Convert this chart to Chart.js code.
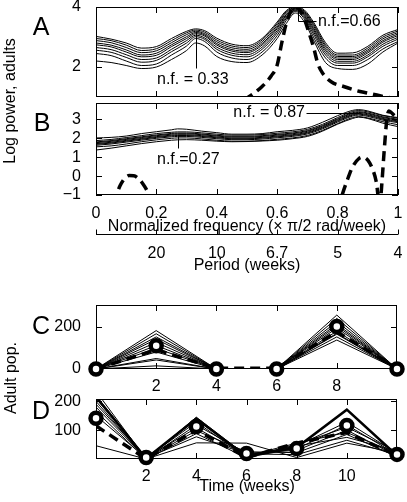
<!DOCTYPE html>
<html>
<head>
<meta charset="utf-8">
<script src="https://cdn.jsdelivr.net/npm/chart.js@4.4.0/dist/chart.umd.min.js"></script>
<style>
  html, body { margin: 0; padding: 0; background: #fff; }
  body { width: 407px; height: 502px; position: relative; overflow: hidden;
         font-family: 'Liberation Sans', Arial, sans-serif; color: #000; }
  canvas { position: absolute; left: 0; }
  .lbl { position: absolute; transform: translate(-50%, -50%); white-space: nowrap;
         font-size: 16px; line-height: 1; }
  .panel { font-size: 25px; }
  .rot { transform: translate(-50%, -50%) rotate(-90deg); }
</style>
</head>
<body>
<canvas id="chartA" width="407" height="100" style="top:0px"></canvas>
<canvas id="chartB" width="407" height="125" style="top:100px"></canvas>
<canvas id="chartP" width="407" height="45" style="top:214px"></canvas>
<canvas id="chartC" width="407" height="100" style="top:295px"></canvas>
<canvas id="chartD" width="407" height="113" style="top:389px"></canvas>

<div class="lbl panel" style="left:41px;top:26px">A</div>
<div class="lbl panel" style="left:42px;top:122px">B</div>
<div class="lbl panel" style="left:41px;top:325px">C</div>
<div class="lbl panel" style="left:41px;top:410px">D</div>
<div class="lbl rot" style="left:10px;top:101px">Log power, adults</div>
<div class="lbl rot" style="left:11px;top:378px">Adult pop.</div>
<div class="lbl" style="left:247px;top:226px">Normalized frequency (× π/2 rad/week)</div>
<div class="lbl" style="left:247px;top:265px">Period (weeks)</div>
<div class="lbl" style="left:247px;top:486px">Time (weeks)</div>

<script>
// ---- panel A: log power spectra (normalized frequency) ----
const nfA = [0, 0.05, 0.1, 0.15, 0.2, 0.25, 0.3, 0.33, 0.36, 0.4, 0.45, 0.5, 0.55, 0.6, 0.63, 0.66, 0.69, 0.72, 0.76, 0.8, 0.85, 0.9, 0.95, 1];
const runA1 = [3.02, 2.93, 2.80, 2.63, 2.68, 2.95, 3.19, 3.27, 3.21, 2.96, 2.76, 2.71, 2.95, 3.50, 3.88, 4.00, 3.90, 3.50, 2.81, 2.46, 2.47, 2.69, 3.06, 3.25];
const runA2 = [2.95, 2.88, 2.73, 2.55, 2.61, 2.88, 3.14, 3.23, 3.16, 2.90, 2.70, 2.65, 2.90, 3.45, 3.84, 3.98, 3.86, 3.44, 2.74, 2.40, 2.40, 2.63, 3.00, 3.20];
const runA3 = [2.88, 2.81, 2.65, 2.48, 2.54, 2.81, 3.08, 3.19, 3.11, 2.84, 2.64, 2.59, 2.84, 3.39, 3.80, 3.96, 3.83, 3.38, 2.68, 2.35, 2.35, 2.57, 2.94, 3.15];
const runA4 = [2.80, 2.73, 2.57, 2.40, 2.46, 2.74, 3.01, 3.15, 3.07, 2.78, 2.58, 2.53, 2.78, 3.33, 3.75, 3.94, 3.79, 3.31, 2.61, 2.30, 2.30, 2.52, 2.88, 3.10];
const runA5 = [2.74, 2.67, 2.50, 2.34, 2.39, 2.68, 2.95, 3.11, 3.03, 2.73, 2.53, 2.48, 2.73, 3.28, 3.72, 3.93, 3.75, 3.25, 2.55, 2.25, 2.25, 2.47, 2.83, 3.05];
const runA6 = [2.65, 2.58, 2.41, 2.25, 2.30, 2.59, 2.88, 3.06, 2.97, 2.66, 2.46, 2.41, 2.66, 3.21, 3.67, 3.90, 3.71, 3.18, 2.48, 2.19, 2.19, 2.40, 2.76, 2.99];
const runA7 = [2.56, 2.49, 2.32, 2.16, 2.22, 2.51, 2.80, 3.01, 2.92, 2.59, 2.39, 2.34, 2.59, 3.14, 3.62, 3.88, 3.66, 3.10, 2.40, 2.13, 2.13, 2.34, 2.69, 2.93];
const runA8 = [2.45, 2.38, 2.20, 2.05, 2.10, 2.40, 2.70, 2.95, 2.85, 2.50, 2.30, 2.25, 2.50, 3.05, 3.55, 3.85, 3.60, 3.00, 2.30, 2.05, 2.05, 2.25, 2.60, 2.85];
const runA9 = [2.20, 2.15, 2.05, 1.95, 2.00, 2.25, 2.55, 2.80, 2.70, 2.35, 2.18, 2.15, 2.40, 2.95, 3.45, 3.80, 3.50, 2.90, 2.15, 1.95, 1.92, 2.10, 2.50, 2.80];
const nfDashA = [0.49, 0.52, 0.55, 0.58, 0.6, 0.615, 0.63, 0.645, 0.66, 0.675, 0.69, 0.705, 0.72, 0.735, 0.75, 0.78, 0.82, 0.86, 0.9, 0.94, 0.98, 1];
const dashA = [0.9, 1.1, 1.35, 1.7, 2.07, 2.8, 3.45, 3.85, 4.0, 3.9, 3.6, 3.15, 2.67, 2.1, 1.8, 1.5, 1.35, 1.22, 1.13, 1.04, 0.96, 0.92];

// ---- panel B ----
const nfB = [0, 0.05, 0.1, 0.15, 0.2, 0.25, 0.27, 0.3, 0.35, 0.4, 0.45, 0.5, 0.55, 0.6, 0.65, 0.7, 0.75, 0.8, 0.85, 0.87, 0.9, 0.95, 1];
const runB1 = [2.02, 2.05, 2.12, 2.25, 2.35, 2.45, 2.50, 2.48, 2.38, 2.30, 2.22, 2.22, 2.25, 2.35, 2.42, 2.55, 2.85, 3.20, 3.48, 3.52, 3.45, 3.22, 3.10];
const runB2 = [1.88, 1.94, 2.04, 2.14, 2.25, 2.32, 2.34, 2.34, 2.29, 2.22, 2.17, 2.17, 2.20, 2.27, 2.34, 2.47, 2.74, 3.10, 3.42, 3.47, 3.40, 3.20, 3.07];
const runB3 = [1.81, 1.88, 1.98, 2.08, 2.18, 2.26, 2.28, 2.28, 2.23, 2.16, 2.11, 2.11, 2.14, 2.21, 2.28, 2.41, 2.68, 3.04, 3.36, 3.41, 3.34, 3.14, 3.01];
const runB4 = [1.77, 1.84, 1.94, 2.04, 2.14, 2.22, 2.24, 2.24, 2.19, 2.12, 2.07, 2.07, 2.10, 2.17, 2.24, 2.37, 2.64, 3.00, 3.32, 3.37, 3.30, 3.10, 2.97];
const runB5 = [1.72, 1.79, 1.89, 1.99, 2.09, 2.17, 2.19, 2.19, 2.14, 2.07, 2.02, 2.02, 2.05, 2.12, 2.19, 2.32, 2.59, 2.95, 3.27, 3.32, 3.25, 3.05, 2.92];
const runB6 = [1.68, 1.75, 1.85, 1.95, 2.05, 2.13, 2.15, 2.15, 2.10, 2.03, 1.98, 1.98, 2.01, 2.08, 2.15, 2.28, 2.55, 2.91, 3.23, 3.28, 3.21, 3.01, 2.88];
const runB7 = [1.63, 1.70, 1.80, 1.90, 2.00, 2.08, 2.10, 2.10, 2.05, 1.98, 1.93, 1.93, 1.96, 2.03, 2.10, 2.23, 2.50, 2.86, 3.18, 3.23, 3.16, 2.96, 2.83];
const runB8 = [1.55, 1.60, 1.70, 1.82, 1.92, 2.00, 2.02, 2.02, 1.97, 1.90, 1.85, 1.85, 1.88, 1.95, 2.02, 2.15, 2.42, 2.78, 3.10, 3.15, 3.08, 2.88, 2.72];
const runB9 = [1.38, 1.48, 1.60, 1.72, 1.82, 1.90, 1.92, 1.93, 1.90, 1.85, 1.82, 1.83, 1.86, 1.90, 1.98, 2.10, 2.38, 2.75, 3.05, 3.12, 3.05, 2.80, 2.62];
const nfDashB = [0.06, 0.068, 0.08, 0.095, 0.11, 0.125, 0.14, 0.155, 0.17, 0.18, 0.19, 0.5, 0.8, 0.815, 0.83, 0.85, 0.87, 0.885, 0.9, 0.915, 0.928, 0.94, 0.946, 0.955, 0.963, 0.97, 0.985, 1];
const dashB = [-1.5, -1.0, -0.5, -0.12, 0.03, 0.02, -0.12, -0.4, -0.8, -1.2, -1.8, null, -1.8, -1.0, -0.3, 0.5, 0.92, 1.0, 0.85, 0.4, -0.3, -1.6, -0.5, 1.5, 3.0, 3.45, 3.25, 3.05];

const nfTicks = [0, 0.2, 0.4, 0.6, 0.8, 1];
const periodWeeks = [20, 10, 6.67, 5, 4];
const periodLabels = ['20', '10', '6.7', '5', '4'];
const yTicksA = [2, 4];
const yTicksB = [-1, 0, 1, 2, 3];

// ---- panel C: adult population, biweekly ----
const weeksC = [0, 2, 4, 6, 8, 10];
const runC1 = [0, 183, 0, 0, 241, 0];
const runC2 = [0, 168, 0, 0, 257, 0];
const runC3 = [0, 153, 0, 0, 226, 0];
const runC4 = [0, 142, 0, 0, 205, 0];
const runC5 = [0, 127, 0, 0, 180, 0];
const runC6 = [0, 112, 0, 0, 195, 0];
const runC7 = [0, 98, 0, 0, 166, 0];
const runC8 = [0, 81, 0, 0, 153, 0];
const runC9 = [0, 50, 0, 0, 214, 0];
const runC10 = [0, 43, 0, 0, 138, 0];
const runC11 = [0, 15, 0, 0, 170, 0];
const dashC = [0, 92, 3, 3, 178, 2];
const obsC = [0, 111, 0, 0, 203, 0];
const xTicksC = [2, 4, 6, 8];
const yTicksC = [0, 200];

// ---- panel D ----
const weeksD = [0, 2, 4, 6, 8, 10, 12];
const runD1 = [215, 2, 140, 8, 40, 171, 12];
const runD2 = [235, 0, 145, 12, 45, 128, 20];
const runD3 = [220, 5, 135, 15, 35, 118, 15];
const runD4 = [210, 3, 128, 6, 50, 110, 25];
const runD5 = [200, 0, 118, 20, 30, 100, 10];
const runD6 = [190, 4, 108, 10, 55, 92, 18];
const runD7 = [180, 2, 98, 25, 22, 85, 8];
const runD8 = [165, 0, 88, 4, 45, 75, 28];
const runD9 = [150, 3, 77, 18, 15, 65, 14];
const runD10 = [46, 0, 56, 55, 5, 55, 22];
const dashD = [115, 0, 100, 5, 55, 92, 12];
const obsD = [141, 5, 113, 19, 36, 116, 16];
const xTicksD = [2, 4, 6, 8, 10];
const yTicksD = [100, 200];

const FONT = "'Liberation Sans', Arial, sans-serif";
Chart.defaults.font.family = FONT;
Chart.defaults.font.size = 16;
Chart.defaults.color = '#000';

function pts(xs, ys) { return xs.map((x, i) => ({ x: x, y: ys[i] })); }

function thin(xs, ys, w, smooth) {
  return { data: pts(xs, ys), borderColor: '#000', borderWidth: w, pointRadius: 0,
           cubicInterpolationMode: smooth ? 'monotone' : 'default', clip: 0, order: 2 };
}
function dashed(xs, ys, smooth) {
  return { data: pts(xs, ys), borderColor: '#000', borderWidth: 3.5, borderDash: [10, 6],
           pointRadius: 0, cubicInterpolationMode: smooth ? 'monotone' : 'default', clip: 0, order: 1 };
}
function circles(xs, ys) {
  return { data: pts(xs, ys), showLine: false, pointRadius: 5.5, pointBorderWidth: 4.5,
           pointBorderColor: '#000', pointBackgroundColor: '#fff', clip: false, order: 0 };
}

function fmt(v) { return v < 0 ? '\u2212' + (-v) : String(v); }

function yAxis(min, max, ticks, show) {
  return {
    type: 'linear', min: min, max: max,
    grid: { display: false }, border: { display: false },
    ticks: { display: show, padding: 7, callback: fmt },
    afterBuildTicks: s => { s.ticks = ticks.map(v => ({ value: v })); },
    afterFit: s => { s.width = 96; s.paddingTop = 0; s.paddingBottom = 0; }
  };
}
function xAxis(min, max, ticks, height, pad, labels) {
  return {
    type: 'linear', min: min, max: max, display: height > 0,
    grid: { display: false }, border: { display: false },
    ticks: { padding: pad, maxRotation: 0, autoSkip: false,
             callback: labels ? (v, i) => labels[i] : fmt },
    afterBuildTicks: s => { s.ticks = ticks.map(v => ({ value: v })); },
    afterFit: s => { s.height = height; s.paddingLeft = 0; s.paddingRight = 0; }
  };
}

// matlab style box with inward ticks
const boxTicks = {
  id: 'boxTicks',
  beforeDatasetsDraw(chart, args, o) {
    if (!o.xt) return;
    const { ctx, chartArea: a, scales } = chart;
    ctx.save();
    ctx.strokeStyle = '#000';
    ctx.lineWidth = 1;
    ctx.strokeRect(a.left + 0.5, a.top + 0.5, a.right - a.left - 1, a.bottom - a.top - 1);
    ctx.beginPath();
    o.xt.forEach(v => {
      const px = Math.round(scales.x.getPixelForValue(v)) + 0.5;
      ctx.moveTo(px, a.top); ctx.lineTo(px, a.top + 6);
      ctx.moveTo(px, a.bottom); ctx.lineTo(px, a.bottom - 6);
    });
    o.yt.forEach(v => {
      const py = Math.round(scales.y.getPixelForValue(v)) + 0.5;
      ctx.moveTo(a.left, py); ctx.lineTo(a.left + 6, py);
      ctx.moveTo(a.right, py); ctx.lineTo(a.right - 6, py);
    });
    ctx.stroke();
    ctx.restore();
  }
};

// separate period axis: a bare line with upward ticks
const periodLine = {
  id: 'periodLine',
  afterDraw(chart, args, o) {
    if (!o.xt) return;
    const { ctx, chartArea: a, scales } = chart;
    const yb = a.bottom + 0.5;
    ctx.save();
    ctx.strokeStyle = '#000';
    ctx.lineWidth = 1;
    ctx.beginPath();
    ctx.moveTo(a.left, yb); ctx.lineTo(a.right, yb);
    o.xt.forEach(v => {
      const px = Math.round(scales.x.getPixelForValue(v)) + 0.5;
      ctx.moveTo(px, yb); ctx.lineTo(px, yb - 5);
    });
    ctx.stroke();
    ctx.restore();
  }
};

// n.f. annotations
const notes = {
  id: 'notes',
  afterDatasetsDraw(chart, args, o) {
    if (!o.lines) return;
    const { ctx, scales: { x, y } } = chart;
    ctx.save();
    ctx.strokeStyle = '#000';
    ctx.lineWidth = 1;
    o.lines.forEach(l => {
      ctx.beginPath();
      for (let i = 0; i < l.length; i += 2) {
        const px = Math.round(x.getPixelForValue(l[i])) + 0.5;
        const py = Math.round(y.getPixelForValue(l[i + 1])) + 0.5;
        if (i) ctx.lineTo(px, py); else ctx.moveTo(px, py);
      }
      ctx.stroke();
    });
    ctx.fillStyle = '#000';
    ctx.font = '16px ' + FONT;
    ctx.textBaseline = 'middle';
    o.texts.forEach(t => {
      ctx.textAlign = t.align;
      ctx.fillText(t.text, x.getPixelForValue(t.x), y.getPixelForValue(t.y));
    });
    ctx.restore();
  }
};

Chart.register(boxTicks, periodLine, notes);

function options(padTop, x, y, extra) {
  return {
    responsive: false, animation: false, devicePixelRatio: 1,
    layout: { padding: { top: padTop, right: 9, bottom: 0, left: 0 } },
    scales: { x: x, y: y },
    plugins: Object.assign({ legend: { display: false }, tooltip: { enabled: false } }, extra)
  };
}

// A
new Chart(document.getElementById('chartA'), {
  type: 'line',
  data: { datasets: [dashed(nfDashA, dashA, true)].concat(
    [runA1, runA2, runA3, runA4, runA5, runA6, runA7, runA8, runA9].map(r => thin(nfA, r, 1, true))) },
  options: Object.assign(options(7, xAxis(0, 1, nfTicks, 0, 0), yAxis(1, 4, yTicksA, true), {
    boxTicks: { xt: nfTicks, yt: yTicksA },
    notes: {
      lines: [[0.33, 3.18, 0.33, 1.96], [0.67, 4.0, 0.67, 3.53, 0.73, 3.53]],
      texts: [{ text: 'n.f. = 0.33', x: 0.202, y: 1.57, align: 'left' },
              { text: 'n.f.=0.66', x: 0.735, y: 3.51, align: 'left' }]
    }
  }), { layout: { padding: { top: 7, right: 9, bottom: 3, left: 0 } } })
});

// B
new Chart(document.getElementById('chartB'), {
  type: 'line',
  data: { datasets: [dashed(nfDashB, dashB, true)].concat(
    [runB1, runB2, runB3, runB4, runB5, runB6, runB7, runB8, runB9].map(r => thin(nfB, r, 1, true))) },
  options: options(3, xAxis(0, 1, nfTicks, 30, 1), yAxis(-1, 3.87, yTicksB, true), {
    boxTicks: { xt: nfTicks, yt: yTicksB },
    notes: {
      lines: [[0.695, 3.36, 0.87, 3.36], [0.27, 2.17, 0.27, 1.47]],
      texts: [{ text: 'n.f. = 0.87', x: 0.692, y: 3.34, align: 'right' },
              { text: 'n.f.=0.27', x: 0.202, y: 0.85, align: 'left' }]
    }
  })
});

// period axis
const periodNf = periodWeeks.map(p => 4 / p);
new Chart(document.getElementById('chartP'), {
  type: 'line',
  data: { datasets: [] },
  options: options(10, xAxis(0, 1, periodNf, 25, 2, periodLabels), yAxis(0, 1, [], false), {
    periodLine: { xt: [0].concat(periodNf) }
  })
});

// C
new Chart(document.getElementById('chartC'), {
  type: 'line',
  data: { datasets: [circles(weeksC, obsC), dashed(weeksC, dashC, false)].concat(
    [runC1, runC2, runC3, runC4, runC5, runC6, runC7, runC8, runC9, runC10, runC11].map(r => thin(weeksC, r, 1, false))) },
  options: options(8, xAxis(0, 10, xTicksC, 26, 0), yAxis(0, 305, yTicksC, true), {
    boxTicks: { xt: xTicksC, yt: yTicksC }
  })
});

// D
const dsD = [runD2, runD3, runD4, runD5, runD6, runD7, runD8, runD9, runD10].map(r => thin(weeksD, r, 1, false));
dsD.push(thin(weeksD, runD1, 2.5, false));
new Chart(document.getElementById('chartD'), {
  type: 'line',
  data: { datasets: [circles(weeksD, obsD), dashed(weeksD, dashD, false)].concat(dsD) },
  options: options(5, xAxis(0, 12, xTicksD, 43, 0), yAxis(0, 208, yTicksD, true), {
    boxTicks: { xt: xTicksD, yt: yTicksD }
  })
});
</script>
</body>
</html>
